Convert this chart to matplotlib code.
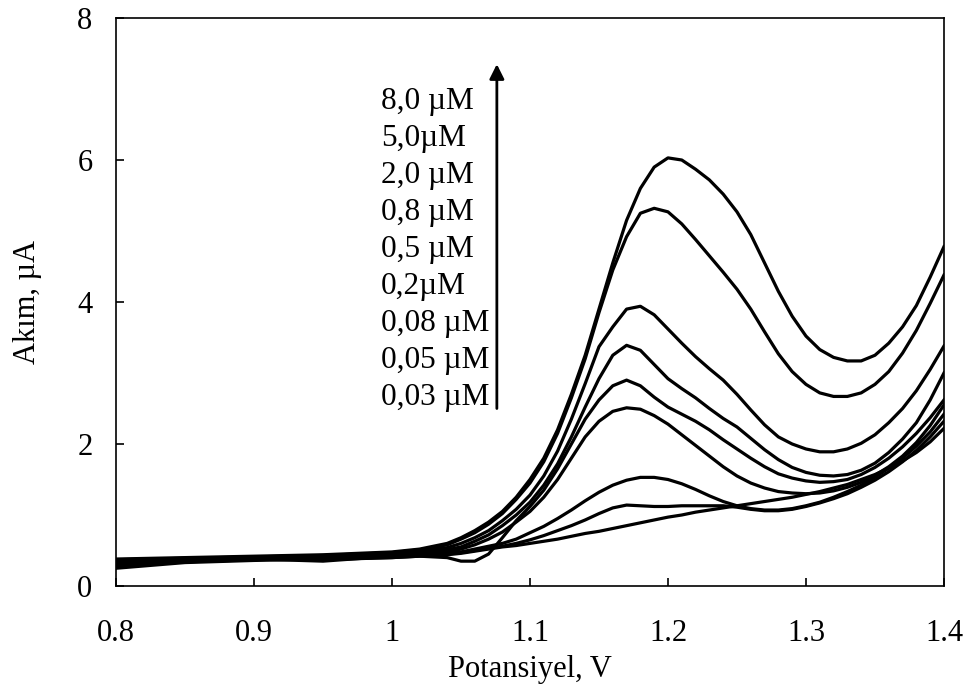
import numpy as np
import matplotlib
matplotlib.use('Agg')
import matplotlib.pyplot as plt

plt.rcParams['font.family'] = ['Liberation Serif', 'DejaVu Serif']

# potansiyel (V), ortak x ekseni
potansiyel = [0.80, 0.85, 0.90, 0.95, 1.00, 1.02, 1.04,
              1.05, 1.06, 1.07, 1.08, 1.09, 1.10, 1.11, 1.12, 1.13, 1.14,
              1.15, 1.16, 1.17, 1.18, 1.19, 1.20, 1.21, 1.22, 1.23, 1.24,
              1.25, 1.26, 1.27, 1.28, 1.29, 1.30, 1.31, 1.32, 1.33, 1.34,
              1.35, 1.36, 1.37, 1.38, 1.39, 1.40]

# akim degerleri (uA), her derisim icin
akim_003 = [0.25, 0.33, 0.36, 0.38, 0.40, 0.42, 0.44,
            0.46, 0.49, 0.52, 0.55, 0.57, 0.60, 0.63, 0.66, 0.70, 0.74,
            0.77, 0.81, 0.85, 0.89, 0.93, 0.97, 1.00, 1.04, 1.07, 1.10,
            1.13, 1.16, 1.19, 1.22, 1.25, 1.29, 1.33, 1.38, 1.43, 1.50,
            1.57, 1.66, 1.76, 1.88, 2.03, 2.22]
akim_005 = [0.28, 0.34, 0.37, 0.39, 0.42, 0.43, 0.45,
            0.47, 0.50, 0.53, 0.56, 0.60, 0.65, 0.71, 0.78, 0.85, 0.93,
            1.02, 1.10, 1.14, 1.13, 1.12, 1.12, 1.13, 1.13, 1.13, 1.13,
            1.11, 1.08, 1.06, 1.06, 1.08, 1.12, 1.17, 1.23, 1.30, 1.39,
            1.49, 1.61, 1.75, 1.91, 2.10, 2.32]
akim_008 = [0.30, 0.35, 0.38, 0.40, 0.43, 0.44, 0.46,
            0.48, 0.52, 0.56, 0.60, 0.66, 0.75, 0.84, 0.95, 1.07, 1.20,
            1.32, 1.42, 1.49, 1.53, 1.53, 1.50, 1.44, 1.36, 1.27, 1.19,
            1.13, 1.09, 1.07, 1.07, 1.09, 1.13, 1.18, 1.25, 1.33, 1.42,
            1.53, 1.66, 1.80, 1.97, 2.17, 2.42]
akim_02 = [0.32, 0.36, 0.38, 0.35, 0.42, 0.45, 0.48,
           0.52, 0.58, 0.66, 0.76, 0.90, 1.05, 1.25, 1.50, 1.80, 2.10,
           2.32, 2.46, 2.51, 2.49, 2.40, 2.28, 2.13, 1.98, 1.83, 1.68,
           1.55, 1.45, 1.38, 1.33, 1.31, 1.30, 1.31, 1.34, 1.39, 1.46,
           1.56, 1.68, 1.83, 2.02, 2.26, 2.55]
akim_05 = [0.33, 0.36, 0.38, 0.37, 0.40, 0.42, 0.40,
           0.35, 0.35, 0.45, 0.68, 0.92, 1.12, 1.35, 1.65, 2.00, 2.35,
           2.62, 2.82, 2.90, 2.82, 2.66, 2.52, 2.42, 2.32, 2.20, 2.06,
           1.93, 1.80, 1.68, 1.58, 1.52, 1.48, 1.46, 1.47, 1.50, 1.57,
           1.67, 1.80, 1.96, 2.15, 2.37, 2.62]
akim_08 = [0.35, 0.37, 0.39, 0.41, 0.44, 0.47, 0.51,
           0.55, 0.63, 0.72, 0.85, 1.00, 1.18, 1.42, 1.72, 2.10, 2.52,
           2.92, 3.25, 3.39, 3.32, 3.12, 2.92, 2.78, 2.65, 2.50, 2.36,
           2.24, 2.08, 1.92, 1.78, 1.67, 1.60, 1.56, 1.55, 1.57, 1.63,
           1.73, 1.88, 2.07, 2.30, 2.62, 3.00]
akim_20 = [0.36, 0.38, 0.40, 0.42, 0.46, 0.49, 0.54,
           0.60, 0.68, 0.78, 0.92, 1.08, 1.28, 1.55, 1.90, 2.35, 2.85,
           3.37, 3.65, 3.90, 3.94, 3.82, 3.62, 3.42, 3.23, 3.06, 2.90,
           2.70, 2.48, 2.27, 2.10, 2.00, 1.93, 1.89, 1.89, 1.93, 2.01,
           2.13, 2.30, 2.50, 2.75, 3.05, 3.38]
akim_50 = [0.37, 0.39, 0.41, 0.43, 0.47, 0.51, 0.58,
           0.66, 0.75, 0.87, 1.02, 1.22, 1.45, 1.75, 2.15, 2.65, 3.20,
           3.85, 4.45, 4.92, 5.25, 5.32, 5.27, 5.10, 4.88, 4.65, 4.42,
           4.18, 3.90, 3.58, 3.27, 3.02, 2.84, 2.72, 2.67, 2.67, 2.72,
           2.84, 3.02, 3.28, 3.60, 3.98, 4.38]
akim_80 = [0.38, 0.40, 0.42, 0.44, 0.48, 0.52, 0.60,
           0.68, 0.78, 0.90, 1.05, 1.25, 1.50, 1.80, 2.20, 2.70, 3.25,
           3.90, 4.55, 5.15, 5.60, 5.90, 6.03, 6.00, 5.87, 5.72, 5.52,
           5.27, 4.95, 4.55, 4.15, 3.80, 3.52, 3.33, 3.22, 3.17, 3.17,
           3.25, 3.42, 3.65, 3.95, 4.35, 4.78]

derisimler = ['8,0 µM', '5,0µM', '2,0 µM', '0,8 µM', '0,5 µM',
              '0,2µM', '0,08 µM', '0,05 µM', '0,03 µM']

x_ticks = [0.8, 0.9, 1.0, 1.1, 1.2, 1.3, 1.4]
x_ticklabels = ['0.8', '0.9', '1', '1.1', '1.2', '1.3', '1.4']
y_ticks = [0, 2, 4, 6, 8]

fig = plt.figure(figsize=(9.65, 6.93), dpi=100)
ax = fig.add_axes([0.1202, 0.1544, 0.858, 0.8196])

for akim in [akim_003, akim_005, akim_008, akim_02, akim_05,
             akim_08, akim_20, akim_50, akim_80]:
    ax.plot(potansiyel, akim, color='black', lw=2.3, solid_joinstyle='round')

ax.set_xlim(0.8, 1.4)
ax.set_ylim(0, 8)
ax.set_xticks(x_ticks)
ax.set_xticklabels(x_ticklabels)
ax.set_yticks(y_ticks)
ax.tick_params(direction='in', length=6, width=1.2, labelsize=22)
ax.tick_params(axis='x', pad=24)
ax.tick_params(axis='y', pad=17)
for s in ax.spines.values():
    s.set_linewidth(1.2)

ax.set_xlabel('Potansiyel, V', fontsize=22, labelpad=5)
ax.set_ylabel('Akım, µA', fontsize=22, labelpad=25)

# derisim etiketleri ve ok
for i, etiket in enumerate(derisimler):
    ax.text(0.992, 6.83 - i * 0.522, etiket, fontsize=22.5,
            ha='left', va='center')
ax.annotate('', xy=(1.076, 7.35), xytext=(1.076, 2.5),
            arrowprops=dict(arrowstyle='-|>', lw=2, color='black',
                            mutation_scale=22, shrinkA=0, shrinkB=0))

fig.savefig('out.png', dpi=100)
